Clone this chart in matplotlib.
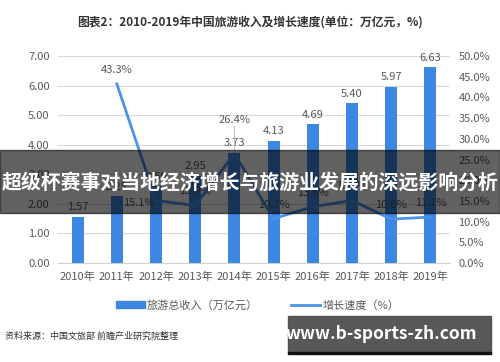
import matplotlib.pyplot as plt
from matplotlib.patches import Rectangle
from matplotlib.lines import Line2D

plt.rcParams['font.family'] = ['Noto Sans CJK SC', 'DejaVu Sans']

years = ['2010年', '2011年', '2012年', '2013年', '2014年',
         '2015年', '2016年', '2017年', '2018年', '2019年']
revenue = [1.57, 2.25, 2.59, 2.95, 3.73, 4.13, 4.69, 5.40, 5.97, 6.63]
growth_years = years[1:]
growth = [43.3, 15.1, 13.9, 26.4, 10.7, 13.6, 15.1, 10.6, 11.1]

gray = '#595959'
bar_color = '#3d87e2'
line_color = '#4a92ea'

fig = plt.figure(figsize=(5, 3.62), dpi=100)
ax = fig.add_axes([0.116, 0.2735, 0.784, 0.5715])
x = list(range(len(years)))
ax.bar(x, revenue, width=0.31, color=bar_color, zorder=3)
ax.set_ylim(0, 7)
ax.set_xlim(-0.5, len(years) - 0.5)
ax.set_yticks([0, 1, 2, 3, 4, 5, 6, 7])
ax.set_yticklabels([f'{v:.2f}' for v in range(8)])
ax.set_xticks(x)
ax.set_xticklabels(years)
ax.grid(axis='y', color='#d9d9d9', linewidth=0.8, zorder=0)
for s in ['top', 'right', 'left']:
    ax.spines[s].set_visible(False)
ax.spines['bottom'].set_color('#d0d0d0')
ax.tick_params(axis='both', length=0, labelsize=8, colors=gray, pad=6)
for i, v in enumerate(revenue):
    ax.text(i, v + 0.15, f'{v:.2f}', ha='center', va='bottom', fontsize=8, color=gray)

ax2 = ax.twinx()
gx = [years.index(y) for y in growth_years]
ax2.plot(gx, growth, color=line_color, linewidth=2, zorder=4)
ax2.set_ylim(0, 50)
ax2.set_yticks(range(0, 51, 5))
ax2.set_yticklabels([f'{v:.1f}%' for v in range(0, 51, 5)])
for s in ['top', 'right', 'left', 'bottom']:
    ax2.spines[s].set_visible(False)
ax2.tick_params(axis='y', length=0, labelsize=8, colors=gray, pad=6)
for i, v in zip(gx, growth):
    lab = f'{v:.1f}%'
    if v == 26.4:
        ax2.plot([i, i], [v + 0.5, v + 6.8], color='#bfbfbf', linewidth=0.7, zorder=2)
        ax2.text(i, v + 7, lab, ha='center', va='bottom', fontsize=8, color=gray)
    elif i == 2:
        ax2.text(i - 0.03, v - 0.6, lab, ha='right', va='center', fontsize=8, color=gray)
    else:
        ax2.text(i, v + 2.2, lab, ha='center', va='bottom', fontsize=8, color=gray)

fig.text(0.5, 0.94, '图表2：2010-2019年中国旅游收入及增长速度(单位：万亿元，%)',
         ha='center', va='center', fontsize=8.5, fontweight='bold', color='#333333')

# legend
handles = [Rectangle((0, 0), 1, 1, color=bar_color),
           Line2D([0], [0], color=line_color, linewidth=2)]
fig.legend(handles, ['旅游总收入（万亿元）', '增长速度（%）'], loc='center',
           bbox_to_anchor=(0.515, 0.157), ncol=2, frameon=False, fontsize=8,
           labelcolor=gray, handlelength=2.6, handleheight=0.5, columnspacing=3,
           handletextpad=0.2)

fig.text(0.01, 0.072, '资料来源：中国文旅部 前瞻产业研究院整理', ha='left', va='center',
         fontsize=6.5, color='#333333')

# overlay banner
fig.patches.append(Rectangle((0, 0.412), 1, 0.174, transform=fig.transFigure,
                             color='#000000', alpha=0.62, zorder=10))
fig.text(0.5, 0.497, '超级杯赛事对当地经济增长与旅游业发展的深远影响分析', ha='center',
         va='center', fontsize=14.3, fontweight='bold', color='white', zorder=11)

# watermark box
fig.patches.append(Rectangle((0.576, 0.025), 0.406, 0.102, transform=fig.transFigure,
                             color='#4a4a4a', alpha=0.92, zorder=10))
fig.patches.append(Rectangle((0.576, 0.022), 0.406, 0.006, transform=fig.transFigure,
                             color='#111111', zorder=10))
fig.text(0.763, 0.076, 'www.b-sports-zh.com', ha='center', va='center',
         fontsize=12.5, fontweight='bold', color='white', zorder=11)

fig.savefig('out.png', dpi=100, facecolor='white')
